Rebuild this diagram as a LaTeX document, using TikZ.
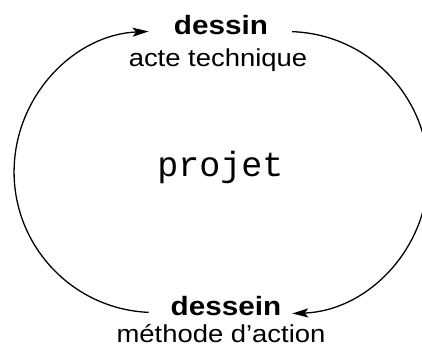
\documentclass[tikz,border=0pt]{standalone}
\usepackage{fontspec}
\setmainfont{Liberation Sans}[FakeStretch=1.12]
\setmonofont{Liberation Mono}
\usetikzlibrary{arrows.meta}

\begin{document}
\begin{tikzpicture}[
  x=1pt, y=1pt,
  term/.style = {font=\bfseries\fontsize{26.5}{30}\selectfont, inner sep=0pt, anchor=base},
  gloss/.style = {font=\fontsize{24.5}{28}\selectfont, inner sep=0pt, anchor=base},
  core/.style = {font=\ttfamily\fontsize{35}{40}\selectfont, inner sep=0pt, anchor=base},
  flow/.style = {line width=1.3pt, -{Stealth[length=16pt, width=9pt, inset=3.5pt]}}
]
  \useasboundingbox (0,0) rectangle (422,-349);

  % top: the drawing
  \node[term] (dessin) at (221,-34.3) {dessin};
  \node[gloss] (technique) at (218,-66.7) {acte technique};

  % centre
  \node[core] (projet) at (220.5,-176) {projet};

  % bottom: the design
  \node[term] (dessein) at (226,-315) {dessein};
  \node[gloss] (methode) at (221,-342.7) {méthode d'action};

  % cycle, two circle arcs
  \draw[flow] ([xshift=-22pt]dessein.mid west) arc[start angle=267.5, end angle=92.5, radius=140.6];
  \draw[flow] ([xshift=24pt]dessin.mid east) arc[start angle=88, end angle=-88, radius=141];
\end{tikzpicture}
\end{document}
